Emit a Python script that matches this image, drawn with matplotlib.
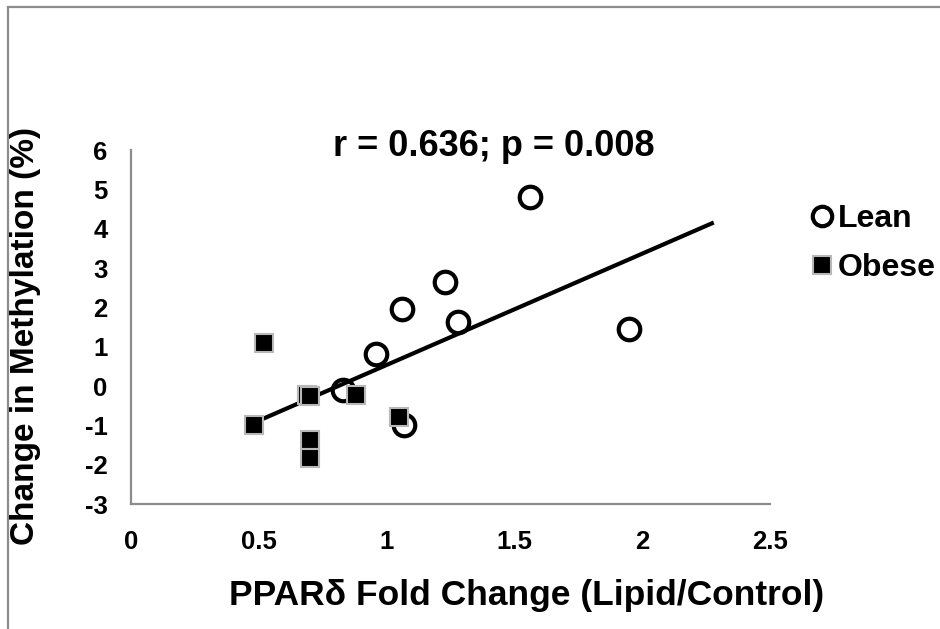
import numpy as np
import matplotlib
matplotlib.use("Agg")
import matplotlib.pyplot as plt
from matplotlib.patches import Rectangle
from matplotlib.lines import Line2D

plt.rcParams['font.family'] = ['Liberation Sans', 'DejaVu Sans']
plt.rcParams['font.weight'] = 'bold'
plt.rcParams['axes.unicode_minus'] = False

# PPARδ fold change (x) vs change in methylation (y)
lean_x = [1.56, 1.95, 1.23, 1.06, 1.28, 0.96, 0.83, 1.07]
lean_y = [4.80, 1.45, 2.65, 1.95, 1.62, 0.82, -0.10, -1.00]
obese_x = [0.52, 0.48, 0.69, 0.70, 0.70, 0.70, 0.88, 1.05]
obese_y = [1.10, -1.00, -0.22, -0.25, -1.37, -1.83, -0.23, -0.80]

x_ticks = [0, 0.5, 1, 1.5, 2, 2.5]
x_tick_labels = ['0', '0.5', '1', '1.5', '2', '2.5']
y_ticks = list(range(-3, 7))
trend_end_x = 2.28

title_text = 'r = 0.636; p = 0.008'
x_label = 'PPARδ Fold Change (Lipid/Control)'
y_label = 'Change in Methylation (%)'

W, H = 940, 629
fig = plt.figure(figsize=(W / 100, H / 100), dpi=100)
ax = fig.add_axes([131 / W, 1 - 504 / H, (770 - 131) / W, (504 - 150) / H])

# outer chart frame (runs off the right and bottom edges)
fig.add_artist(Rectangle((8 / W, -0.2), 1.2, 1.2 - 7 / H,
                         transform=fig.transFigure, fill=False,
                         edgecolor='#8c8c8c', linewidth=1.6))

# linear trend over all samples
all_x = np.array(lean_x + obese_x)
all_y = np.array(lean_y + obese_y)
slope, intercept = np.polyfit(all_x, all_y, 1)
tx = np.array([all_x.min(), trend_end_x])
ax.plot(tx, slope * tx + intercept, color='black', linewidth=3.0, zorder=2,
        solid_capstyle='butt')

ax.plot(lean_x, lean_y, linestyle='none', marker='o', markersize=15.5,
        markerfacecolor='none', markeredgecolor='black', markeredgewidth=3.0,
        zorder=3)
ax.plot(obese_x, obese_y, linestyle='none', marker='s', markersize=13,
        markerfacecolor='black', markeredgecolor='#b8b8b8', markeredgewidth=1.5,
        zorder=4)

ax.set_xlim(0, 2.5)
ax.set_ylim(-3, 6)
ax.set_xticks(x_ticks)
ax.set_xticklabels(x_tick_labels)
ax.set_yticks(y_ticks)
ax.tick_params(length=0, labelsize=18.5, pad=0)
ax.tick_params(axis='x', pad=19)
ax.tick_params(axis='y', pad=17)
for lbl in ax.get_xticklabels() + ax.get_yticklabels():
    lbl.set_fontweight('bold')
for s in ('top', 'right'):
    ax.spines[s].set_visible(False)
for s in ('left', 'bottom'):
    ax.spines[s].set_color('#8c8c8c')
    ax.spines[s].set_linewidth(1.6)

fig.text(494 / W, 1 - 147 / H, title_text, ha='center', va='center',
         fontsize=26, fontweight='bold')
fig.text(527 / W, 1 - 596 / H, x_label, ha='center', va='center',
         fontsize=25.5, fontweight='bold')
fig.text(26 / W, 1 - 336 / H, y_label, ha='center', va='center',
         rotation=90, fontsize=24, fontweight='bold')

handles = [
    Line2D([], [], linestyle='none', marker='o', markersize=14,
           markerfacecolor='none', markeredgecolor='black', markeredgewidth=3.0),
    Line2D([], [], linestyle='none', marker='s', markersize=13.5,
           markerfacecolor='black', markeredgecolor='#b8b8b8', markeredgewidth=1.5),
]
fig.legend(handles, ['Lean', 'Obese'], loc='upper left',
           bbox_to_anchor=(810 / W, 1 - 204 / H), frameon=False,
           prop={'size': 23, 'weight': 'bold'}, handlelength=0.75,
           handletextpad=0.12, labelspacing=0.6, borderpad=0, borderaxespad=0)

fig.savefig('out.png', dpi=100)
